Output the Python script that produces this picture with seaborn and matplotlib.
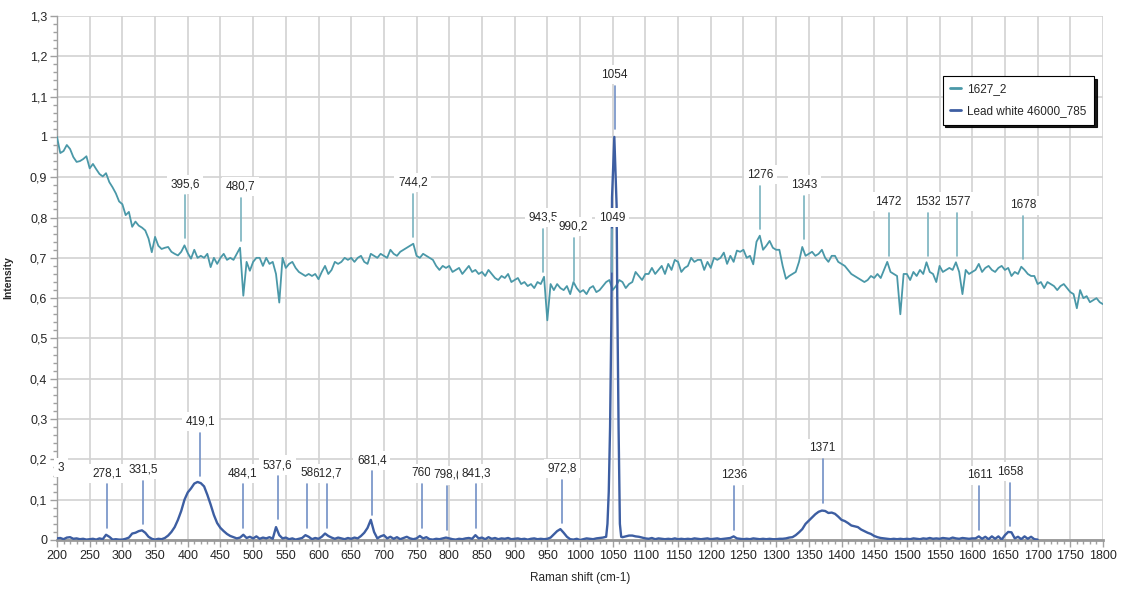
import numpy as np
import pandas as pd
import matplotlib
matplotlib.use("Agg")
import matplotlib.pyplot as plt
import seaborn as sns
from matplotlib import font_manager
from matplotlib.ticker import MultipleLocator, FuncFormatter

# spectrum 1627_2, sampled every 5 cm-1 from 200 to 1800
green_y = [
    1.0, 0.96, 0.965, 0.98, 0.97, 0.95, 0.938, 0.94, 0.945, 0.952,
    0.922, 0.933, 0.92, 0.908, 0.902, 0.91, 0.888, 0.875, 0.86, 0.84,
    0.833, 0.806, 0.814, 0.777, 0.79, 0.78, 0.775, 0.768, 0.748, 0.714,
    0.752, 0.73, 0.722, 0.725, 0.727, 0.715, 0.71, 0.706, 0.715, 0.731,
    0.712, 0.698, 0.72, 0.70, 0.705, 0.70, 0.71, 0.677, 0.70, 0.685,
    0.70, 0.71, 0.695, 0.70, 0.695, 0.71, 0.725, 0.606, 0.69, 0.668,
    0.69, 0.70, 0.70, 0.68, 0.70, 0.685, 0.69, 0.66, 0.589, 0.70,
    0.675, 0.685, 0.69, 0.675, 0.665, 0.66, 0.655, 0.66, 0.655, 0.66,
    0.647, 0.665, 0.68, 0.66, 0.67, 0.69, 0.685, 0.69, 0.70, 0.695,
    0.70, 0.69, 0.70, 0.705, 0.69, 0.685, 0.71, 0.705, 0.70, 0.71,
    0.705, 0.70, 0.72, 0.71, 0.705, 0.715, 0.72, 0.725, 0.73, 0.735,
    0.705, 0.70, 0.71, 0.705, 0.70, 0.695, 0.68, 0.67, 0.68, 0.675,
    0.68, 0.665, 0.67, 0.675, 0.66, 0.67, 0.68, 0.665, 0.67, 0.66,
    0.665, 0.655, 0.67, 0.66, 0.65, 0.645, 0.655, 0.65, 0.66, 0.64,
    0.645, 0.65, 0.635, 0.64, 0.63, 0.635, 0.625, 0.64, 0.635, 0.653,
    0.545, 0.635, 0.62, 0.635, 0.625, 0.62, 0.63, 0.61, 0.64, 0.625,
    0.615, 0.62, 0.61, 0.625, 0.63, 0.615, 0.62, 0.63, 0.64, 0.645,
    0.62, 0.63, 0.645, 0.64, 0.625, 0.635, 0.64, 0.665, 0.655, 0.645,
    0.66, 0.66, 0.675, 0.66, 0.67, 0.68, 0.66, 0.685, 0.67, 0.695,
    0.69, 0.665, 0.675, 0.68, 0.70, 0.69, 0.695, 0.695, 0.67, 0.69,
    0.675, 0.70, 0.695, 0.70, 0.713, 0.685, 0.705, 0.69, 0.718, 0.715,
    0.72, 0.70, 0.705, 0.684, 0.74, 0.755, 0.72, 0.73, 0.742, 0.725,
    0.72, 0.72, 0.68, 0.648, 0.655, 0.66, 0.665, 0.69, 0.727, 0.705,
    0.71, 0.715, 0.705, 0.71, 0.72, 0.70, 0.69, 0.705, 0.705, 0.69,
    0.685, 0.68, 0.67, 0.66, 0.655, 0.65, 0.645, 0.64, 0.645, 0.655,
    0.65, 0.66, 0.65, 0.67, 0.69, 0.665, 0.66, 0.655, 0.56, 0.66,
    0.66, 0.645, 0.665, 0.655, 0.67, 0.66, 0.689, 0.665, 0.66, 0.64,
    0.68, 0.665, 0.67, 0.675, 0.67, 0.689, 0.665, 0.61, 0.67, 0.66,
    0.665, 0.67, 0.685, 0.665, 0.675, 0.68, 0.67, 0.665, 0.675, 0.68,
    0.67, 0.675, 0.655, 0.665, 0.66, 0.678, 0.67, 0.66, 0.655, 0.655,
    0.635, 0.64, 0.625, 0.64, 0.635, 0.63, 0.62, 0.63, 0.635, 0.625,
    0.615, 0.61, 0.575, 0.62, 0.60, 0.605, 0.59, 0.595, 0.60, 0.59,
    0.585,
]
green_x = np.arange(200, 1801, 5)

# Lead white 46000_785: 200-1035 every 5, main band by hand, 1065-1700 every 5
blue_a = [
    0.004, 0.005, 0.002, 0.006, 0.007, 0.003, 0.004, 0.002, 0.003, 0.001,
    0.002, 0.003, 0.001, 0.004, 0.002, 0.013, 0.008, 0.001, 0.002, 0.001,
    0.001, 0.003, 0.006, 0.016, 0.018, 0.022, 0.024, 0.018, 0.008, 0.003,
    0.001, 0.003, 0.002, 0.005, 0.011, 0.02, 0.032, 0.05, 0.072, 0.1,
    0.118, 0.128, 0.14, 0.144, 0.141, 0.133, 0.112, 0.088, 0.062, 0.042,
    0.03, 0.022, 0.015, 0.01, 0.007, 0.004, 0.006, 0.013, 0.005, 0.008,
    0.004, 0.009, 0.003, 0.006, 0.004, 0.007, 0.003, 0.032, 0.012, 0.004,
    0.006, 0.002, 0.004, 0.001, 0.003, 0.005, 0.012, 0.008, 0.002, 0.005,
    0.003, 0.008, 0.016, 0.01, 0.006, 0.003, 0.006, 0.004, 0.002, 0.005,
    0.003, 0.006, 0.004, 0.01, 0.018, 0.03, 0.05, 0.02, 0.004, 0.009,
    0.012, 0.004, 0.008, 0.003, 0.007, 0.002, 0.005, 0.008, 0.004, 0.002,
    0.004, 0.01, 0.004, 0.007, 0.002, 0.001, 0.003, 0.002, 0.004, 0.006,
    0.004, 0.002, 0.001, 0.003, 0.002, 0.004, 0.005, 0.003, 0.012, 0.004,
    0.006, 0.002, 0.007, 0.003, 0.005, 0.002, 0.004, 0.003, 0.005, 0.002,
    0.003, 0.004, 0.002, 0.003, 0.001, 0.003, 0.004, 0.002, 0.003, 0.002,
    0.003, 0.006, 0.014, 0.022, 0.027, 0.018, 0.008, 0.002, 0.001, 0.003,
    0.0, 0.002, 0.004, 0.003, 0.002, 0.004, 0.005, 0.006,
]
band_x = [1040, 1042, 1044, 1046, 1048, 1049, 1052.5, 1056, 1057, 1059, 1061, 1063]
band_y = [0.008, 0.04, 0.12, 0.28, 0.55, 0.85, 1.0, 0.83, 0.6, 0.28, 0.04, 0.008]
blue_b = [
    0.007, 0.009, 0.011, 0.011, 0.009, 0.008, 0.006,
    0.004, 0.003, 0.005, 0.002, 0.004, 0.003, 0.002, 0.003, 0.002, 0.004,
    0.002, 0.003, 0.002, 0.003, 0.002, 0.004, 0.003, 0.002, 0.003, 0.004,
    0.002, 0.003, 0.004, 0.002, 0.003, 0.004, 0.005, 0.009, 0.004, 0.003,
    0.002, 0.003, 0.002, 0.004, 0.003, 0.002, 0.003, 0.002, 0.003, 0.002,
    0.002, 0.003, 0.003, 0.004, 0.006, 0.007, 0.012, 0.019, 0.027, 0.04,
    0.048, 0.056, 0.064, 0.07, 0.073, 0.072, 0.067, 0.068, 0.065, 0.058,
    0.05, 0.047, 0.042, 0.036, 0.034, 0.032, 0.026, 0.022, 0.018, 0.015,
    0.01, 0.007, 0.005, 0.004, 0.003, 0.002, 0.003, 0.002, 0.003, 0.002,
    0.003, 0.002, 0.004, 0.003, 0.002, 0.004, 0.003, 0.005, 0.003, 0.004,
    0.003, 0.005, 0.004, 0.003, 0.006, 0.004, 0.003, 0.005, 0.004, 0.003,
    0.004, 0.004, 0.009, 0.003, 0.008, 0.002, 0.009, 0.003, 0.009, 0.001,
    0.012, 0.02, 0.019, 0.004, 0.008, 0.002, 0.009, 0.003, 0.008, 0.002,
    0.001,
]
blue_x = np.concatenate([np.arange(200, 1036, 5), band_x, np.arange(1065, 1701, 5)])
blue_y = np.concatenate([blue_a, band_y, blue_b])

# peak labels (text, x of marker line, height of label)
green_lbl = ["395,6", "480,7", "744,2", "943,5", "990,2", "1049",
             "1276", "1343", "1472", "1532", "1577", "1678"]
green_lbl_x = [395.6, 480.7, 744.2, 943.5, 990.2, 1049, 1276, 1343, 1472, 1532, 1577, 1678]
green_lbl_y = [0.883, 0.876, 0.886, 0.80, 0.778, 0.80, 0.906, 0.881, 0.839, 0.839, 0.839, 0.831]

blue_lbl = ["278,1", "331,5", "419,1", "484,1", "537,6", "58", "612,7", "681,4",
            "760", "798,(", "841,3", "972,8", "1054", "1236", "1371", "1611", "1658"]
blue_lbl_x = [277, 331.5, 419.1, 484.1, 537.6, 582.5, 612.7, 681.4,
              758, 797, 841.3, 972.8, 1053, 1236, 1371, 1611, 1658]
blue_lbl_y = [0.166, 0.174, 0.293, 0.166, 0.186, 0.166, 0.166, 0.198,
              0.166, 0.161, 0.166, 0.178, 1.154, 0.161, 0.228, 0.161, 0.169]

green_col = "#4a98a8"
blue_col = "#3d5ea2"

sns.set_style("whitegrid")
names = {f.name for f in font_manager.fontManager.ttflist}
if "Liberation Sans Narrow" in names:
    plt.rcParams["font.family"] = ["Liberation Sans Narrow", "DejaVu Sans"]
    fs = 9.5
else:
    plt.rcParams["font.family"] = ["Liberation Sans", "DejaVu Sans"]
    fs = 8.5

fig = plt.figure(figsize=(11.21, 5.89), dpi=100)
ax = fig.add_axes([57 / 1121, 49 / 589, 1046 / 1121, 524 / 589])

df_g = pd.DataFrame({"x": green_x, "y": green_y})
df_b = pd.DataFrame({"x": blue_x, "y": blue_y})
sns.lineplot(data=df_g, x="x", y="y", ax=ax, color=green_col, lw=1.3,
             label="1627_2", estimator=None, zorder=3)
sns.lineplot(data=df_b, x="x", y="y", ax=ax, color=blue_col, lw=1.7,
             label="Lead white 46000_785", estimator=None, zorder=3)

box = dict(boxstyle="square,pad=0.3", fc="white", ec="none")
tight = dict(boxstyle="square,pad=0.02", fc="white", ec="none")
for lbl, x, y in zip(green_lbl, green_lbl_x, green_lbl_y):
    ax.plot([x, x], [y - 0.028, y - 0.135], color="#79b3bf", lw=1.2, zorder=4)
    ax.text(x, y, lbl, ha="center", va="center", fontsize=fs, bbox=box, zorder=5)
for lbl, x, y in zip(blue_lbl, blue_lbl_x, blue_lbl_y):
    ax.plot([x, x], [y - 0.028, y - 0.135], color="#7290c6", lw=1.2, zorder=4)
    # the truncated "58" label sits on top with a tight box so 612,7 stays readable
    ax.text(x, y, lbl, ha="center", va="center", fontsize=fs,
            bbox=tight if lbl == "58" else box, zorder=6 if lbl == "58" else 5)
# label cut off at the left edge
ax.text(201, 0.179, "3", ha="left", va="center", fontsize=fs, bbox=box, zorder=5)

ax.set_xlim(200, 1800)
ax.set_ylim(0, 1.3)
ax.xaxis.set_major_locator(MultipleLocator(50))
ax.xaxis.set_minor_locator(MultipleLocator(10))
ax.yaxis.set_major_locator(MultipleLocator(0.1))
ax.yaxis.set_minor_locator(MultipleLocator(0.02))
ax.yaxis.set_major_formatter(FuncFormatter(lambda v, p: f"{round(v, 1):g}".replace(".", ",")))
ax.xaxis.set_major_formatter(FuncFormatter(lambda v, p: f"{v:g}"))

ax.grid(True, which="major", color="#d2d2d2", lw=1.2)
ax.set_axisbelow(True)
for s in ["top", "right"]:
    ax.spines[s].set_visible(False)
ax.spines["left"].set_color("#a0a0a0")
ax.spines["left"].set_linewidth(1)
ax.spines["bottom"].set_color("#999999")
ax.spines["bottom"].set_linewidth(2)
ax.tick_params(which="major", direction="out", length=5, width=1, color="#a0a0a0",
               labelsize=fs + 0.5, pad=2, left=True, bottom=True)
ax.tick_params(which="minor", direction="out", length=3, width=1, color="#a0a0a0",
               left=True, bottom=True)

ax.set_xlabel("Raman shift (cm-1)", fontsize=fs)
ax.set_ylabel("Intensity", fontsize=fs - 1, fontweight="bold")
ax.xaxis.set_label_coords(0.5, -0.062)
ax.yaxis.set_label_coords(-0.042, 0.5)

leg = ax.legend(loc="upper right", bbox_to_anchor=(0.997, 0.897), fontsize=fs,
                frameon=True, fancybox=False, shadow={"color": "black", "alpha": 0.9},
                framealpha=1, edgecolor="black", handlelength=0.9, handletextpad=0.5,
                borderpad=0.65, labelspacing=0.8)
leg.get_frame().set_linewidth(0.8)
for h in leg.get_lines():
    h.set_linewidth(2)

fig.savefig("out.png", dpi=100)
